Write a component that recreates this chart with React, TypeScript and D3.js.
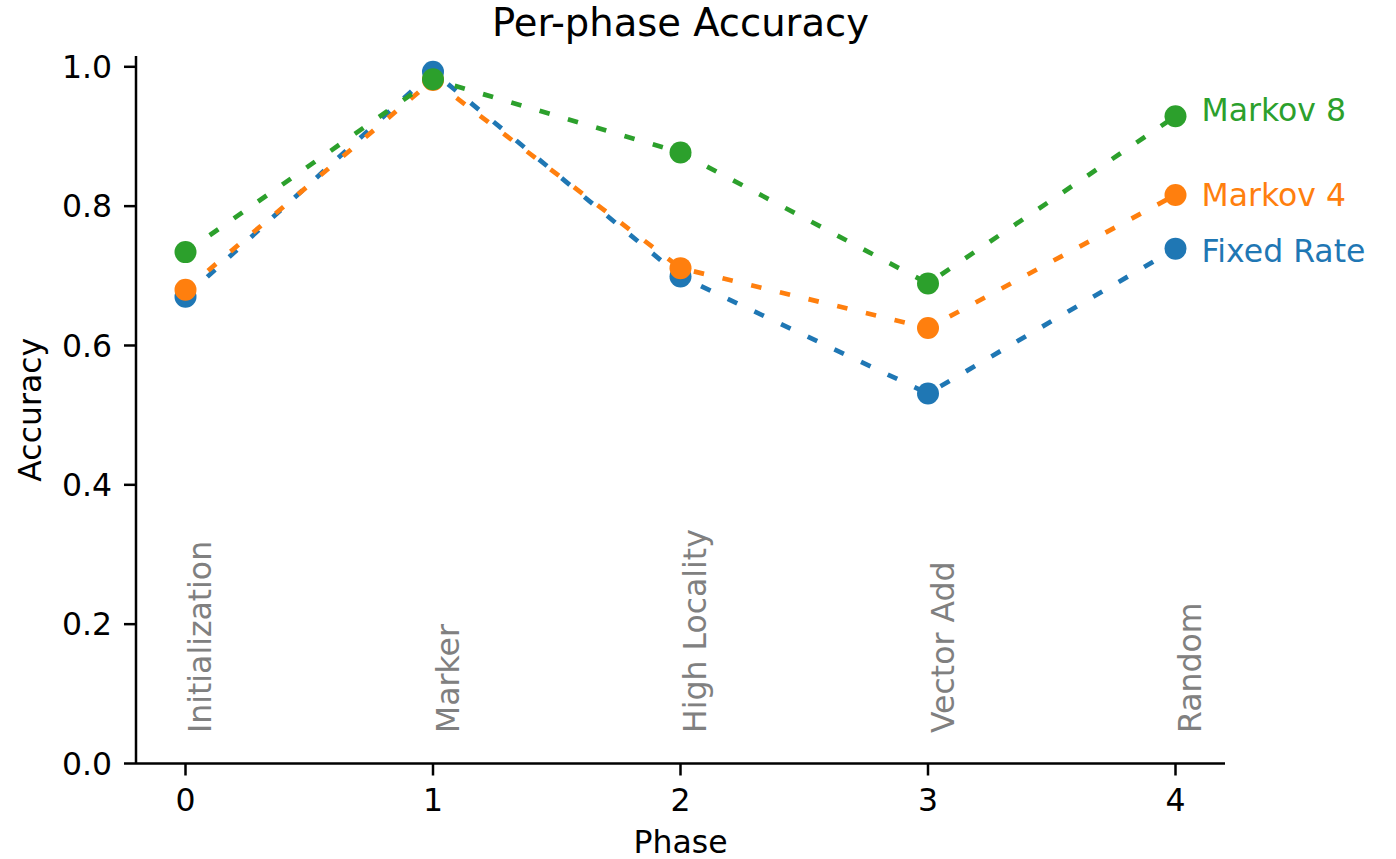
import React from "react";
import * as d3 from "d3";

const phases = [0, 1, 2, 3, 4];
const phaseNames = ["Initialization", "Marker", "High Locality", "Vector Add", "Random"];
const yTicks = [0.0, 0.2, 0.4, 0.6, 0.8, 1.0];

const seriesNames = ["Fixed Rate", "Markov 4", "Markov 8"];
const seriesColors = ["#1f77b4", "#ff7f0e", "#2ca02c"];
const fixedRate = [0.670, 0.993, 0.699, 0.531, 0.739];
const markov4 = [0.680, 0.981, 0.711, 0.625, 0.816];
const markov8 = [0.734, 0.982, 0.877, 0.689, 0.929];
const labelValues = [0.736, 0.817, 0.939];

const W = 1396;
const H = 859;
const FONT = "'DejaVu Sans', sans-serif";

export default function App() {
  const left = 136;
  const right = 1225;
  const top = 56;
  const bottom = 763.5;
  const x = d3.scaleLinear().domain([-0.2, 4.2]).range([left, right]);
  const y = d3.scaleLinear().domain([0, 1.0155]).range([bottom, top]);
  const allSeries = [fixedRate, markov4, markov8];
  const line = d3
    .line<number>()
    .x((_, i) => x(phases[i]))
    .y((d) => y(d));

  return (
    <svg
      width={W}
      height={H}
      style={{ position: "absolute", left: 0, top: 0, background: "#fff" }}
      fontFamily={FONT}
    >
      <rect x={0} y={0} width={W} height={H} fill="#fff" />
      {/* title */}
      <text x={(left + right) / 2} y={36} textAnchor="middle" fontSize={38.5} fill="#000">
        Per-phase Accuracy
      </text>
      {/* phase name annotations */}
      {phases.map((p, i) => (
        <text
          key={"pn" + i}
          transform={`translate(${x(p) + 25.5},${733}) rotate(-90)`}
          fontSize={31.5}
          fill="#808080"
          textAnchor="start"
        >
          {phaseNames[i]}
        </text>
      ))}
      {/* series */}
      {allSeries.map((s, si) => (
        <g key={"s" + si}>
          <path
            d={line(s) || ""}
            fill="none"
            stroke={seriesColors[si]}
            strokeWidth={4.7}
            strokeDasharray="10.5 19"
          />
          {s.map((v, i) => (
            <circle key={i} cx={x(phases[i])} cy={y(v)} r={11} fill={seriesColors[si]} />
          ))}
          <text
            x={x(phases[phases.length - 1]) + 26}
            y={y(labelValues[si])}
            dy="0.36em"
            fontSize={31.5}
            fill={seriesColors[si]}
          >
            {seriesNames[si]}
          </text>
        </g>
      ))}
      {/* axes spines */}
      <line x1={left} x2={left} y1={top} y2={bottom} stroke="#000" strokeWidth={2.5} />
      <line x1={left} x2={right} y1={bottom} y2={bottom} stroke="#000" strokeWidth={2.5} />
      {/* y ticks */}
      {yTicks.map((t) => (
        <g key={"yt" + t}>
          <line x1={left - 12} x2={left} y1={y(t)} y2={y(t)} stroke="#000" strokeWidth={2.5} />
          <text x={left - 24} y={y(t)} dy="0.36em" textAnchor="end" fontSize={31.5} fill="#000">
            {t.toFixed(1)}
          </text>
        </g>
      ))}
      {/* x ticks */}
      {phases.map((p) => (
        <g key={"xt" + p}>
          <line x1={x(p)} x2={x(p)} y1={bottom} y2={bottom + 12} stroke="#000" strokeWidth={2.5} />
          <text x={x(p)} y={811} textAnchor="middle" fontSize={31.5} fill="#000">
            {String(p)}
          </text>
        </g>
      ))}
      {/* axis labels */}
      <text x={(left + right) / 2} y={853} textAnchor="middle" fontSize={31.5} fill="#000">
        Phase
      </text>
      <text
        transform={`translate(${41},${(top + bottom) / 2}) rotate(-90)`}
        textAnchor="middle"
        fontSize={31.5}
        fill="#000"
      >
        Accuracy
      </text>
    </svg>
  );
}
